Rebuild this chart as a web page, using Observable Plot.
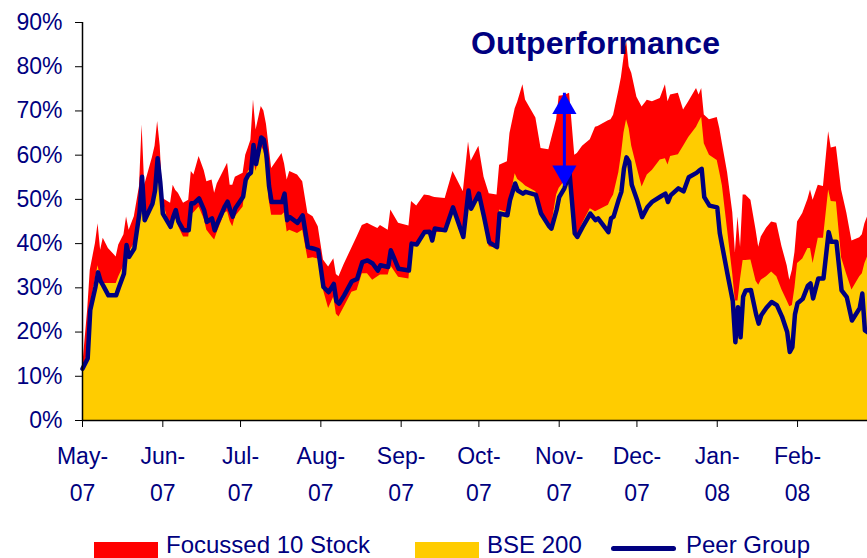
<!DOCTYPE html>
<html><head><meta charset="utf-8">
<script src="https://cdn.jsdelivr.net/npm/d3@7"></script>
<script src="https://cdn.jsdelivr.net/npm/@observablehq/plot@0.6"></script>
<style>
html,body{margin:0;padding:0;background:#fff;font-family:"Liberation Sans",Arial,sans-serif;overflow:hidden;}
#chart{position:absolute;left:0;top:0;}
#legend{position:absolute;left:0;top:0;width:867px;height:558px;color:#000080;font-size:24px;pointer-events:none;}
.sw{position:absolute;}
.lb{position:absolute;line-height:24px;white-space:nowrap;}
</style></head><body>
<div id="chart"></div>
<div id="legend"></div>
<script>
// ---- data (day offsets from 1 May 2007, values in %) ----
const startDate = "2007-05-01";
const endDate = "2008-02-28";
const dayOffsets = [
  0,2,3,5,6,7,8,10,13,14,16,17,18,20,22,23,24,27,28,29,30,31,
  34,35,36,37,39,41,42,43,45,47,48,50,51,52,55,56,57,58,59,
  62,63,64,65,66,67,69,70,71,72,73,77,78,79,80,83,85,87,89,91,
  93,95,97,98,99,101,104,106,108,110,112,114,115,118,119,122,
  126,127,129,132,134,135,136,140,143,147,149,150,
  153,155,157,160,161,164,165,167,168,170,171,175,177,180,181,
  183,184,186,188,190,191,193,196,198,199,203,204,205,207,208,209,210,211,212,
  214,216,218,220,223,225,226,227,230,232,234,237,238,239,240,242,245,
  246,247,249,251,252,253,254,255,256,258,260,261,262,264,266,268,270,272,273,274,275,
  276,278,280,281,282,284,286,288,289,291,293,295,297,300,301,302,303
];
const focussed10 = [
  11.7,25,34,40,44.5,38.5,41.2,38.9,37,39.7,42,46,43,46.1,52.9,66.8,53.2,59.5,62,67.6,62,50.2,
  49.1,53.2,52,51.4,49.1,49.8,56.3,55.5,59.7,56.5,54,54.4,51.4,53.5,57,58.2,53.2,53.2,55,
  55.9,60,61.6,63.4,72.5,65.7,71,70,67,62,57,60.4,58,54.4,56.3,55.5,54,46.8,46.1,43.8,
  36.3,34.7,36.6,33,32.5,35.3,39,41.5,44.1,44.6,44,43.4,44.1,43,47.6,44.6,
  44,49.5,48.5,51,50.8,50.6,50.4,50.2,56.3,51.7,63,58.6,
  62,55,51.3,51,57.7,58.5,64.9,70.5,72,75.9,72.5,68.4,61.5,61.2,63.5,
  68,73.3,73.5,74,60,60.4,62,63.5,66.3,66.5,67.8,68,69,74.5,77.5,82,86,80,78.5,
  73.1,70.9,72.4,72.1,72.8,75.9,72.1,73.6,74,70.2,72.1,75.1,73.6,75.1,69.1,68,68.5,
  66,62.6,56,47,38,46,39.2,51,51,49.8,43,39.2,41.5,43.5,44.9,44.6,39.3,35,31.7,34,38,
  44.9,46.8,50,52.1,49.8,53.2,52.9,65.3,61.6,61.9,52.1,47,40.6,41.3,42,44.5,46
];
const bse200 = [
  11.7,15,26,32,35,32,31,31,31,32.5,35,38.5,38,40,48,54.4,45.3,49.8,52,59,54,49.8,
  43,45,46,44,41.5,41.5,46.5,47,48.3,45.5,43,41.5,40.8,42.5,47,47.2,45,43.8,46.1,
  48.3,53,56.3,57,59,56.3,62,61,58,50,46.4,46.4,47,42.6,43,42.3,43,36.6,36.8,36.5,
  29.5,25.3,27.9,24,23.4,25.6,29,29.4,33.2,33.2,31.7,32.5,32.9,32.9,35,32.4,
  32,39.3,39.5,42,42.5,40.5,42.5,42.5,47.5,41,51.5,47.5,
  51,45.5,39.3,39,47.6,47,49.8,55.8,54.5,53.6,53,51.7,46.8,44,43.8,
  51,52.5,54,55.9,42.3,41.8,44.5,47.9,47.2,47.5,48.7,50,51,56,60,65,68,66,62,
  57.3,52.8,55.5,56.6,58.9,59.2,57.8,59.7,60.1,62,64,66.3,67.5,68.6,62.6,60,58.8,
  56,53,43,33,27,27,32,36.2,36.2,36.3,31.5,30.6,31.7,32.5,33.6,32.5,29.5,27,25.7,26,30,
  35.5,36.5,38.9,38.9,35.5,41.2,41.2,52.1,49.5,49.4,36.8,33,29.5,32.5,33.2,35.5,37
];
const peerGroup = [
  11.7,14,25,30.2,33.5,31.5,30.5,28.3,28.3,30,33.2,39.7,37,38.9,47,55.1,45.3,49,52,59.3,54,46.8,
  43.8,46,47.6,45,43,43,49.1,49.1,50.2,47.5,44.9,45.7,43,44.5,48.5,49.5,47.6,46.1,48,
  50.6,54.4,55.5,56,62.3,58,64,63.5,60,53,49.4,49.4,51.3,45.3,46,44.7,46.4,39.2,38.9,38.5,
  30.2,29,30.9,27,26.4,28.3,31.5,32,35.8,36.2,35.5,33.9,35.1,34.7,38.5,34.3,
  33.9,40,39.8,42.6,42.7,40.7,43.4,43,48.2,41.5,52,47.9,
  51.3,46,40.3,39.2,46.8,46.4,49.8,53.6,52,51.3,51.7,51,46.8,44,43.4,
  47.6,50.5,52.5,55.9,42.3,41.5,43.7,46.8,45.3,45.7,42.6,45.7,46.1,50,51.7,57,59.5,58.5,53.3,
  50,46,48.2,49.5,50.6,51.3,49.4,50.9,52.5,51.8,55,56,56.5,56.9,50.5,48.6,48.2,
  42.3,39.2,33,27,17.7,25.6,18.8,28,29.4,29.5,24,21.9,23.8,25.5,26.8,26.1,23.5,20,15.5,16.6,24,
  26.5,27.5,30.5,31,27.6,32.1,32.1,42.6,40.4,40.4,29.4,27.9,22.6,25.4,28.7,20.4,20
];
const monthTicks = ["2007-05-01","2007-06-01","2007-07-01","2007-08-01","2007-09-01","2007-10-01","2007-11-01","2007-12-01","2008-01-01","2008-02-01"];
const monthLabels = ["May-\n07","Jun-\n07","Jul-\n07","Aug-\n07","Sep-\n07","Oct-\n07","Nov-\n07","Dec-\n07","Jan-\n08","Feb-\n08"];
const yTicks = [0,10,20,30,40,50,60,70,80,90];
const seriesNames = ["Focussed 10 Stock","BSE 200","Peer Group"];
const seriesColors = ["#FF0000","#FFCC00","#000080"];
// annotation
const noteText = "Outperformance";
const noteDate = "2007-11-15";
const noteValue = 85.3;
const arrowDate = "2007-11-03";
const arrowTop = 74;
const arrowBottom = 53;

// ---- build ----
const start = new Date(startDate + "T00:00:00Z");
const end = new Date(endDate + "T00:00:00Z");
const data = dayOffsets.map((d, i) => ({
  date: d3.utcDay.offset(start, d),
  focus: focussed10[i], bse: bse200[i], peer: peerGroup[i]
}));
const tickDates = monthTicks.map(s => new Date(s + "T00:00:00Z"));
const labelOf = new Map(tickDates.map((d, i) => [+d, monthLabels[i]]));
const aDate = new Date(arrowDate + "T00:00:00Z");
const navy = "#000080";

const chart = Plot.plot({
  width: 867, height: 520,
  marginLeft: 82, marginRight: 0, marginTop: 22, marginBottom: 100,
  x: {type: "utc", domain: [start, end], label: null},
  y: {domain: [0, 90], label: null},
  style: {fontFamily: "'Liberation Sans', Arial, sans-serif", background: "#fff", color: navy, overflow: "visible"},
  marks: [
    Plot.areaY(data, {x: "date", y: "focus", fill: seriesColors[0]}),
    Plot.areaY(data, {x: "date", y: "bse", fill: seriesColors[1]}),
    Plot.line(data, {x: "date", y: "peer", stroke: seriesColors[2], strokeWidth: 4.5, strokeLinejoin: "round"}),
    Plot.ruleY([0], {stroke: "#000", strokeWidth: 1.5}),
    Plot.ruleX([start], {y1: 0, y2: 90, stroke: "#000", strokeWidth: 1.5}),
    Plot.axisY(yTicks, {tickFormat: d => d + "%", tickSize: 7, tickPadding: 13, fontSize: 23, color: navy, stroke: "#000", label: null}),
    Plot.axisX(tickDates, {tickFormat: d => labelOf.get(+d), tickSize: 7, tickPadding: 11, fontSize: 23, lineHeight: 1.58, color: navy, stroke: "#000", label: null}),
    Plot.ruleX([{date: aDate, top: arrowTop, bottom: arrowBottom}], {x: "date", y1: "bottom", y2: "top", stroke: "#0000FF", strokeWidth: 3}),
    Plot.dot([{date: aDate, v: arrowTop - 3.1}], {x: "date", y: "v", symbol: "triangle", r: 9, fill: "#0000FF", stroke: "none"}),
    Plot.dot([{date: aDate, v: arrowBottom + 3.1}], {x: "date", y: "v", symbol: "triangle", r: 9, fill: "#0000FF", stroke: "none", rotate: 180}),
    Plot.text([{date: new Date(noteDate + "T00:00:00Z"), v: noteValue}], {x: "date", y: "v", text: () => noteText, fontSize: 32, fontWeight: "bold", fill: navy})
  ]
});
document.getElementById("chart").appendChild(chart);

// ---- legend ----
const lg = document.getElementById("legend");
const items = [
  {sw: {left: 94, top: 542, width: 64, height: 18}, text: 166},
  {sw: {left: 415, top: 542, width: 64, height: 18}, text: 487},
  {sw: {left: 611, top: 546, width: 65, height: 5}, text: 686}
];
items.forEach((it, i) => {
  const s = document.createElement("div");
  s.className = "sw";
  Object.assign(s.style, {left: it.sw.left + "px", top: it.sw.top + "px", width: it.sw.width + "px", height: it.sw.height + "px", background: seriesColors[i], borderRadius: i === 2 ? "3px" : "0"});
  lg.appendChild(s);
  const t = document.createElement("div");
  t.className = "lb";
  t.style.left = it.text + "px";
  t.style.top = "533px";
  t.textContent = seriesNames[i];
  lg.appendChild(t);
});
</script>
</body></html>
